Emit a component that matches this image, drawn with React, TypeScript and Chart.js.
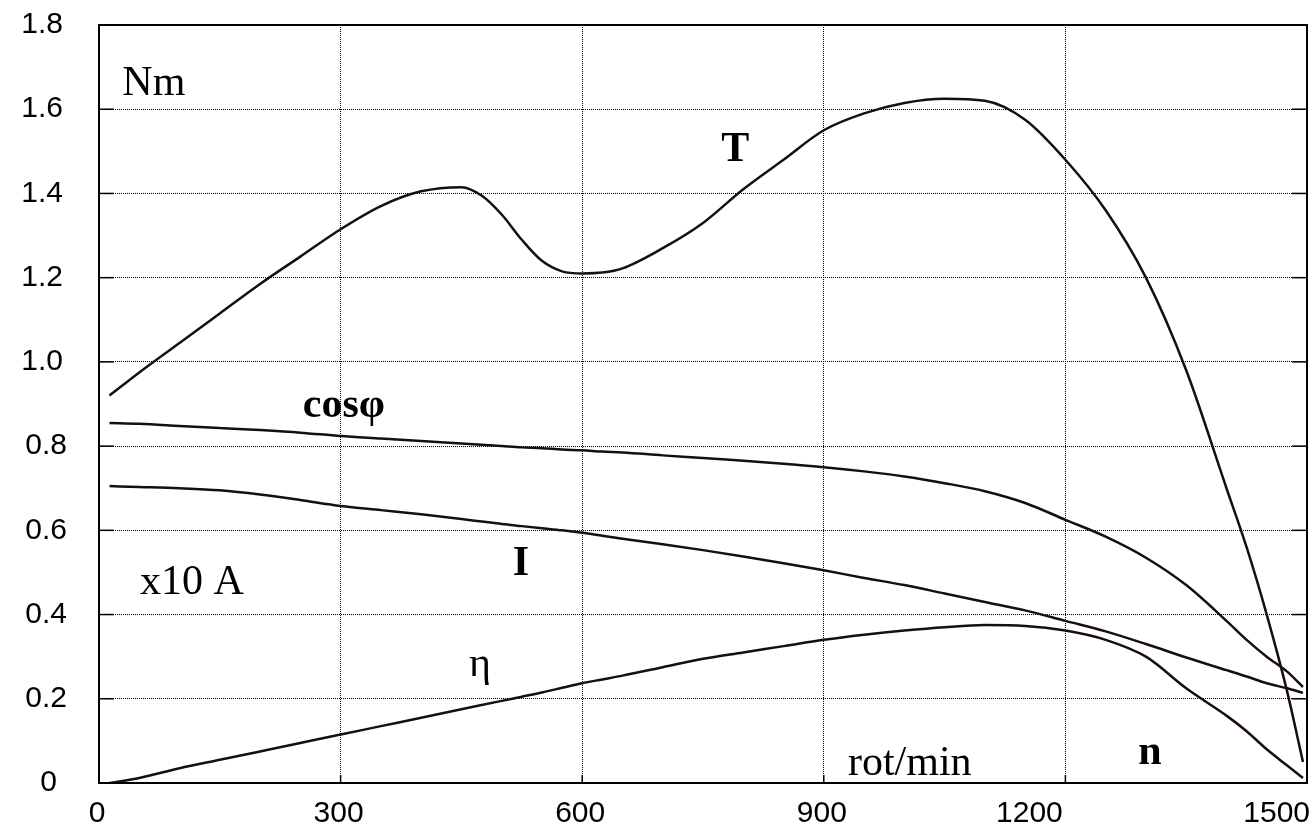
import React, { useEffect, useRef } from "react";
import { Chart, registerables } from "chart.js";

Chart.register(...registerables);

// Shaft speed, rot/min
const speed = [13, 50, 100, 150, 200, 250, 300, 350, 400, 450, 475, 500, 525, 550, 575, 600, 625, 650, 700, 750, 800, 850, 900, 950, 1000, 1050, 1100, 1150, 1200, 1250, 1300, 1350, 1400, 1425, 1450, 1475, 1495];

// Torque T, Nm
const torque = [0.92, 0.975, 1.045, 1.115, 1.185, 1.25, 1.315, 1.37, 1.405, 1.415, 1.395, 1.35, 1.29, 1.24, 1.215, 1.21, 1.212, 1.222, 1.27, 1.33, 1.41, 1.48, 1.55, 1.59, 1.615, 1.625, 1.62, 1.575, 1.48, 1.36, 1.2, 0.98, 0.7, 0.56, 0.4, 0.22, 0.05];

// Power factor cos phi
const cosPhi = [0.855, 0.853, 0.848, 0.843, 0.838, 0.832, 0.824, 0.818, 0.812, 0.806, 0.803, 0.8, 0.797, 0.795, 0.792, 0.79, 0.787, 0.785, 0.778, 0.772, 0.765, 0.758, 0.75, 0.74, 0.728, 0.712, 0.693, 0.665, 0.625, 0.585, 0.535, 0.47, 0.385, 0.34, 0.3, 0.265, 0.228];

// Current I, x10 A
const current = [0.705, 0.703, 0.7, 0.695, 0.685, 0.672, 0.658, 0.648, 0.638, 0.627, 0.621, 0.615, 0.61, 0.605, 0.6, 0.594, 0.587, 0.58, 0.567, 0.553, 0.538, 0.522, 0.505, 0.487, 0.47, 0.45, 0.43, 0.41, 0.385, 0.36, 0.33, 0.298, 0.268, 0.253, 0.237, 0.225, 0.214];

// Efficiency eta
const efficiency = [0.0, 0.012, 0.035, 0.055, 0.075, 0.095, 0.115, 0.135, 0.155, 0.175, 0.185, 0.195, 0.205, 0.215, 0.226, 0.237, 0.246, 0.255, 0.275, 0.295, 0.31, 0.325, 0.34, 0.352, 0.362, 0.37, 0.375, 0.373, 0.362, 0.34, 0.3, 0.225, 0.16, 0.123, 0.08, 0.042, 0.012];

const xTicks = [0, 300, 600, 900, 1200, 1500];
const yTicks = [0, 0.2, 0.4, 0.6, 0.8, 1.0, 1.2, 1.4, 1.6, 1.8];

// In-plot labels (text, anchor in data units)
const notes = [
  { text: "Nm", x: 29, y: 1.634, bold: false, align: "left" },
  { text: "T", x: 790, y: 1.477, bold: true, align: "center" },
  { text: "cosφ", x: 253, y: 0.869, bold: true, align: "left" },
  { text: "x10 A", x: 51, y: 0.45, bold: false, align: "left" },
  { text: "I", x: 524, y: 0.494, bold: true, align: "center" },
  { text: "η", x: 473, y: 0.255, bold: false, align: "center" },
  { text: "rot/min", x: 930, y: 0.019, bold: false, align: "left" },
  { text: "n", x: 1305, y: 0.045, bold: true, align: "center" },
];

const LINE = "#1a0d0d";
const SANS = "'Liberation Sans', Arial, sans-serif";
const SERIF = "'Liberation Serif', 'Times New Roman', serif";

const decor = {
  id: "decor",
  afterDatasetsDraw(chart: any) {
    const { ctx, chartArea: a, scales } = chart;
    const xs = scales.x;
    const ys = scales.y;
    const seg = (x1: number, y1: number, x2: number, y2: number) => {
      ctx.beginPath();
      ctx.moveTo(x1, y1);
      ctx.lineTo(x2, y2);
      ctx.stroke();
    };
    ctx.save();
    ctx.strokeStyle = "#000";
    ctx.setLineDash([]);
    ctx.lineWidth = 1.5;
    yTicks.forEach((v) => {
      const py = ys.getPixelForValue(v);
      seg(a.left, py, a.left + 15, py);
      seg(a.right - 15, py, a.right, py);
    });
    xTicks.forEach((v) => {
      const px = xs.getPixelForValue(v);
      seg(px, a.bottom, px, a.bottom - 8);
    });
    ctx.lineWidth = 2;
    ctx.strokeRect(a.left, a.top, a.right - a.left, a.bottom - a.top);

    ctx.fillStyle = "#000";
    ctx.font = `30px ${SANS}`;
    ctx.textBaseline = "middle";

    // y tick labels
    ctx.textAlign = "right";
    yTicks.forEach((v) => {
      const label = v === 0 ? "0" : v.toFixed(1);
      const dx = v === 0 ? -6 : v < 1 ? 4 : 0;
      ctx.fillText(label, a.left - 36 + dx, ys.getPixelForValue(v));
    });

    // x tick labels
    xTicks.forEach((v, i) => {
      const px = xs.getPixelForValue(v);
      const label = String(v);
      if (i === xTicks.length - 1) {
        ctx.textAlign = "right";
        ctx.fillText(label, a.right + 3, a.bottom + 31);
      } else if (i === xTicks.length - 2) {
        ctx.textAlign = "center";
        ctx.fillText(label, px - 36, a.bottom + 31);
      } else {
        ctx.textAlign = "center";
        ctx.fillText(label, px - 2, a.bottom + 31);
      }
    });

    // annotations
    ctx.textBaseline = "alphabetic";
    notes.forEach((n) => {
      ctx.font = `${n.bold ? "bold " : ""}42px ${SERIF}`;
      ctx.textAlign = n.align as CanvasTextAlign;
      ctx.fillText(n.text, xs.getPixelForValue(n.x), ys.getPixelForValue(n.y));
    });
    ctx.restore();
  },
};

export default function App() {
  const ref = useRef<HTMLCanvasElement>(null);

  useEffect(() => {
    if (!ref.current) return;
    const mk = (vals: number[]) => speed.map((x, i) => ({ x, y: vals[i] }));
    const ds = (label: string, vals: number[]) => ({
      label,
      data: mk(vals),
      borderColor: LINE,
      borderWidth: 2.5,
      pointRadius: 0,
      fill: false,
      cubicInterpolationMode: "monotone" as const,
    });
    const chart = new Chart(ref.current, {
      type: "line",
      data: {
        datasets: [
          ds("T", torque),
          ds("cosφ", cosPhi),
          ds("I", current),
          ds("η", efficiency),
        ],
      },
      options: {
        animation: false,
        responsive: false,
        devicePixelRatio: 1,
        layout: { padding: { left: 0, top: 25, right: 9, bottom: 0 } },
        plugins: { legend: { display: false }, tooltip: { enabled: false } },
        scales: {
          x: {
            type: "linear",
            min: 0,
            max: 1500,
            afterBuildTicks: (s: any) => {
              s.ticks = xTicks.map((v) => ({ value: v }));
            },
            ticks: { display: false },
            grid: { color: "#000", lineWidth: 1, drawTicks: false },
            border: { display: false, dash: [1, 1] },
            afterFit: (s: any) => {
              s.height = 46;
            },
          },
          y: {
            type: "linear",
            min: 0,
            max: 1.8,
            afterBuildTicks: (s: any) => {
              s.ticks = yTicks.map((v) => ({ value: v }));
            },
            ticks: { display: false },
            grid: { color: "#000", lineWidth: 1, drawTicks: false },
            border: { display: false, dash: [1, 1] },
            afterFit: (s: any) => {
              s.width = 99;
            },
          },
        },
      },
      plugins: [decor],
    });
    return () => chart.destroy();
  }, []);

  return (
    <div style={{ position: "absolute", left: 0, top: 0, width: 1316, height: 829, background: "#fff" }}>
      <canvas ref={ref} width={1316} height={829} style={{ width: 1316, height: 829 }} />
    </div>
  );
}
